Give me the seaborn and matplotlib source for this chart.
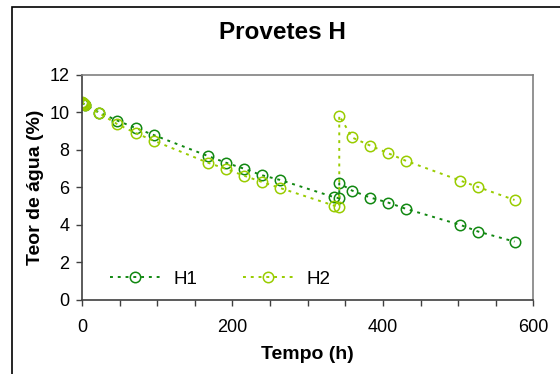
import matplotlib
matplotlib.use("Agg")
import matplotlib.pyplot as plt
import seaborn as sns
import pandas as pd
from matplotlib.patches import Rectangle

# Teor de água ao longo do tempo - provetes H
h1_t = [0, 1, 2, 3, 4, 23, 47, 71.5, 96, 167, 191, 215, 239, 263, 335, 342, 342,
        359, 383, 407, 431, 503, 527, 575]
h1_w = [10.5, 10.48, 10.46, 10.43, 10.4, 9.99, 9.56, 9.16, 8.78, 7.68, 7.32, 7.0, 6.65, 6.4,
        5.48, 5.42, 6.22, 5.83, 5.46, 5.19, 4.85, 4.0, 3.64, 3.11]
h2_t = [0, 1, 2, 3, 4, 23, 47, 71.5, 96, 167, 191, 215, 239, 263, 335, 342, 342,
        359, 383, 407, 431, 503, 527, 575]
h2_w = [10.55, 10.5, 10.47, 10.44, 10.41, 9.95, 9.37, 8.89, 8.48, 7.32, 6.99, 6.63, 6.29, 5.97,
        5.03, 4.98, 9.83, 8.66, 8.23, 7.82, 7.41, 6.36, 6.01, 5.33]

df = pd.concat([
    pd.DataFrame({"t": h1_t, "w": h1_w, "serie": "H1"}),
    pd.DataFrame({"t": h2_t, "w": h2_w, "serie": "H2"}),
])

sns.set_style("white")
plt.rcParams["font.family"] = ["Liberation Sans", "DejaVu Sans"]
plt.rcParams["text.color"] = "black"
plt.rcParams["axes.labelcolor"] = "black"
plt.rcParams["xtick.color"] = "black"
plt.rcParams["ytick.color"] = "black"

fig = plt.figure(figsize=(5.6, 3.74), dpi=100)
ax = fig.add_axes([0.1464, 0.198, 0.806, 0.602])

cores = {"H1": "#118811", "H2": "#99cc00"}
for s in ["H1", "H2"]:
    sns.lineplot(data=df[df["serie"] == s], x="t", y="w", ax=ax, sort=False,
                 estimator=None, color=cores[s], linestyle=(0, (1.5, 2.5)), linewidth=1.4,
                 marker="o", markersize=7.5, markerfacecolor="none",
                 markeredgecolor=cores[s], markeredgewidth=1.1, label=s)

ax.set_xlim(0, 600)
ax.set_ylim(0, 12)
ax.set_xticks([0, 200, 400, 600])
ax.set_xticks(range(0, 601, 50), minor=True)
ax.set_yticks(range(0, 13, 2))
ax.tick_params(axis="both", which="both", direction="out", length=4, width=1,
               color="#404040", labelsize=13, bottom=True, left=True)
ax.tick_params(axis="x", pad=10)
ax.tick_params(axis="y", pad=5)

for side in ["left", "bottom"]:
    ax.spines[side].set_color("#404040")
    ax.spines[side].set_linewidth(1.2)
for side in ["top", "right"]:
    ax.spines[side].set_color("#808080")
    ax.spines[side].set_linewidth(1.2)

ax.set_xlabel("Tempo (h)", fontsize=14, fontweight="bold", labelpad=7)
ax.set_ylabel("Teor de água (%)", fontsize=14, fontweight="bold", labelpad=4)
fig.suptitle("Provetes H", fontsize=17.5, fontweight="bold", x=0.505, y=0.945)

ax.legend(loc="lower left", ncol=2, frameon=False, fontsize=13.5,
          bbox_to_anchor=(0.025, -0.02), columnspacing=2.4, handlelength=2.7,
          handletextpad=0.7)

# moldura da figura
fig.patches.append(Rectangle((12 / 560, -0.1), 1.2, 1 - 7 / 374 + 0.1,
                             transform=fig.transFigure, fill=False,
                             edgecolor="black", linewidth=1.2))

fig.savefig("out.png", dpi=100)
